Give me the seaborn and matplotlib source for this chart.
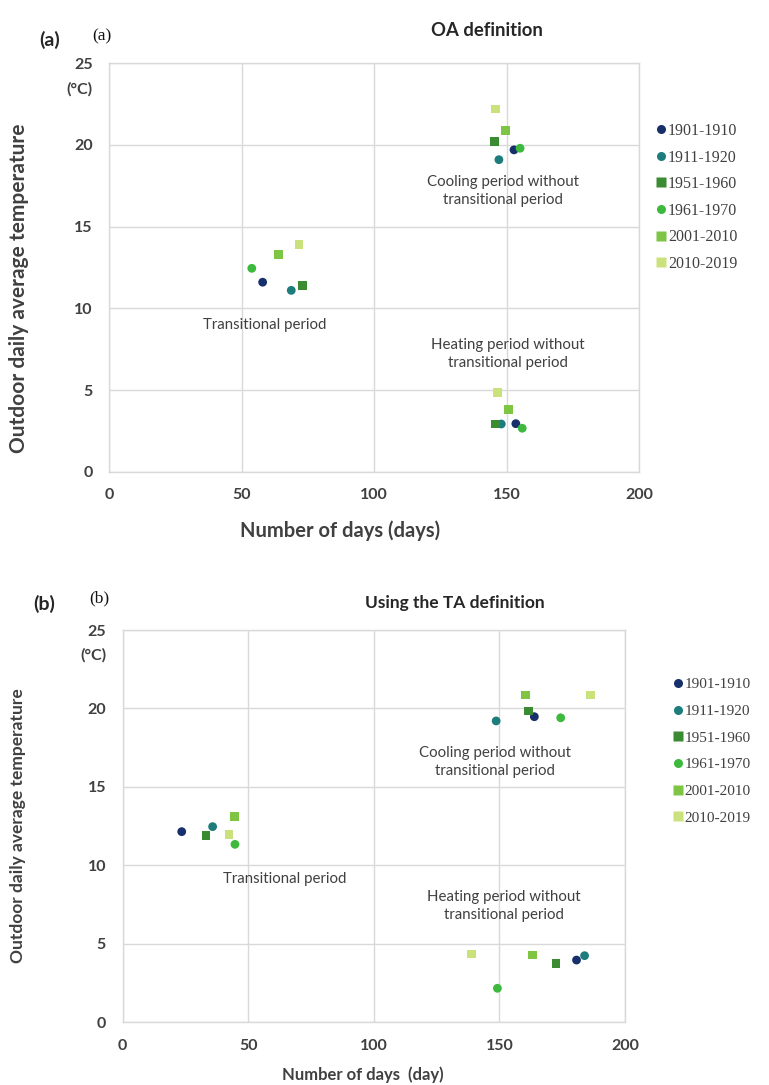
import matplotlib
matplotlib.use("Agg")
import matplotlib.pyplot as plt
import matplotlib.transforms as mtransforms
import seaborn as sns
import pandas as pd

# Decades compared in both panels
periods = ["1901-1910", "1911-1920", "1951-1960", "1961-1970", "2001-2010", "2010-2019"]
period_colors = ["#172f6b", "#1d7d7c", "#3b8b33", "#3dba3d", "#7dc543", "#cbe27c"]
period_markers = ["o", "o", "s", "o", "s", "s"]

# (a) OA definition: number of days and mean outdoor temperature per period
oa_trans_days = [57.9, 68.7, 72.8, 53.8, 63.8, 71.6]
oa_trans_temp = [11.6, 11.1, 11.4, 12.45, 13.3, 13.9]
oa_cool_days = [152.8, 147.1, 145.4, 155.1, 149.7, 145.7]
oa_cool_temp = [19.7, 19.1, 20.2, 19.8, 20.9, 22.2]
oa_heat_days = [153.5, 148.0, 145.7, 155.9, 150.8, 146.5]
oa_heat_temp = [2.94, 2.92, 2.92, 2.66, 3.82, 4.83]

# (b) TA definition
ta_trans_days = [23.5, 35.8, 33.2, 44.7, 44.4, 42.3]
ta_trans_temp = [12.14, 12.46, 11.88, 11.33, 13.1, 11.97]
ta_cool_days = [163.9, 148.7, 161.6, 174.4, 160.3, 186.4]
ta_cool_temp = [19.47, 19.2, 19.83, 19.4, 20.85, 20.85]
ta_heat_days = [180.7, 183.9, 172.5, 149.2, 163.1, 138.9]
ta_heat_temp = [3.95, 4.23, 3.74, 2.15, 4.27, 4.34]

x_ticks = [0, 50, 100, 150, 200]
y_ticks = [0, 5, 10, 15, 20, 25]


def build_frame(groups):
    rows = []
    for days, temps in groups:
        for p, d, t in zip(periods, days, temps):
            rows.append({"period": p, "days": d, "temp": t})
    return pd.DataFrame(rows)


df_oa = build_frame([(oa_trans_days, oa_trans_temp),
                     (oa_cool_days, oa_cool_temp),
                     (oa_heat_days, oa_heat_temp)])
df_ta = build_frame([(ta_trans_days, ta_trans_temp),
                     (ta_cool_days, ta_cool_temp),
                     (ta_heat_days, ta_heat_temp)])

sns.set_theme(style="white")
plt.rcParams["font.family"] = ["Lato", "DejaVu Sans"]

W, H = 769, 1085
fig = plt.figure(figsize=(W / 100, H / 100), dpi=100)


def px_axes(left, right, top, bottom):
    return fig.add_axes([left / W, 1 - bottom / H, (right - left) / W, (bottom - top) / H])


ax_a = px_axes(109.3, 639, 63.3, 471.7)
ax_b = px_axes(122.7, 625, 630, 1022)

palette = dict(zip(periods, period_colors))
markers = dict(zip(periods, period_markers))

TXT = "#404040"
GRID = "#d9d9d9"


def draw_panel(ax, df, legend_anchor, legend_size, legend_gap, ylabel_xy, ylabel_size,
               xlabel_xy, xlabel, xlabel_size):
    sns.scatterplot(data=df, x="days", y="temp", hue="period", style="period",
                    hue_order=periods, style_order=periods,
                    palette=palette, markers=markers, s=40, edgecolor="none",
                    ax=ax, legend=True, zorder=3)
    ax.set_xlim(0, 200)
    ax.set_ylim(0, 25)
    ax.set_xticks(x_ticks)
    ax.set_yticks(y_ticks)
    ax.grid(True, color=GRID, linewidth=1.0)
    ax.set_axisbelow(True)
    for sp in ax.spines.values():
        sp.set_color(GRID)
        sp.set_linewidth(1.0)
    ax.tick_params(length=0, pad=12, labelsize=11.5, labelcolor=TXT)
    for lab in ax.get_xticklabels() + ax.get_yticklabels():
        lab.set_fontweight("bold")

    # unit written under the top tick label
    off = mtransforms.offset_copy(ax.get_yaxis_transform(), fig=fig, x=-12, units="points")
    ax.text(0, 25 - 1.6, "(°C)", transform=off, ha="right", va="center",
            fontsize=11.5, fontweight="bold", color=TXT)

    ax.set_xlabel(xlabel, fontsize=xlabel_size, fontweight="bold", color=TXT)
    ax.xaxis.set_label_coords(*xlabel_xy)
    ax.xaxis.label.set_va("center")
    ax.set_ylabel("Outdoor daily average temperature", fontsize=ylabel_size,
                  fontweight="bold", color=TXT)
    ax.yaxis.set_label_coords(*ylabel_xy)
    ax.yaxis.label.set_va("center")

    handles, labels = ax.get_legend_handles_labels()
    for h in handles:
        h.set_markersize(6.5)
    ax.legend(handles, labels, loc="upper left", bbox_to_anchor=legend_anchor,
              bbox_transform=fig.transFigure, frameon=False, handletextpad=0.05,
              handlelength=0.75, labelspacing=legend_gap, borderpad=0,
              prop={"family": "Liberation Serif", "size": legend_size}, labelcolor=TXT)


draw_panel(ax_a, df_oa, (647 / W, 1 - 115 / H), 11.5, 0.66, (-0.17, 0.45), 15,
           (0.4355, -0.145), "Number of days (days)", 14.5)
draw_panel(ax_b, df_ta, (665 / W, 1 - 670 / H), 11, 0.85, (-0.208, 0.5), 12.5,
           (0.478, -0.135), "Number of days  (day)", 12)

ann = dict(ha="center", va="center", fontsize=10.8, color=TXT, linespacing=1.35)

# (a) region labels
ax_a.annotate("Cooling period without\ntransitional period", xy=(148.5, 17.2), **ann)
ax_a.annotate("Transitional period", xy=(58.8, 9.0), **ann)
ax_a.annotate("Heating period without\ntransitional period", xy=(150.5, 7.2), **ann)

# (b) region labels
ax_b.annotate("Cooling period without\ntransitional period", xy=(148.3, 16.6), **ann)
ax_b.annotate("Transitional period", xy=(64.6, 9.1), **ann)
ax_b.annotate("Heating period without\ntransitional period", xy=(151.8, 7.4), **ann)

# panel titles and letters
fig.text(487 / W, 1 - 30 / H, "OA definition", ha="center", va="center",
         fontsize=13.3, fontweight="bold", color="#262626")
fig.text(455 / W, 1 - 603 / H, "Using the TA definition", ha="center", va="center",
         fontsize=12.5, fontweight="bold", color="#262626")
fig.text(50 / W, 1 - 40 / H, "(a)", ha="center", va="center", fontsize=14,
         fontweight="bold", color="#262626")
fig.text(102 / W, 1 - 36 / H, "(a)", ha="center", va="center", fontsize=12.5,
         family="Liberation Serif", color="#111111")
fig.text(44 / W, 1 - 604 / H, "(b)", ha="center", va="center", fontsize=14,
         fontweight="bold", color="#262626")
fig.text(99 / W, 1 - 598 / H, "(b)", ha="center", va="center", fontsize=12.5,
         family="Liberation Serif", color="#111111")

fig.savefig("out.png", dpi=100, facecolor="white")
